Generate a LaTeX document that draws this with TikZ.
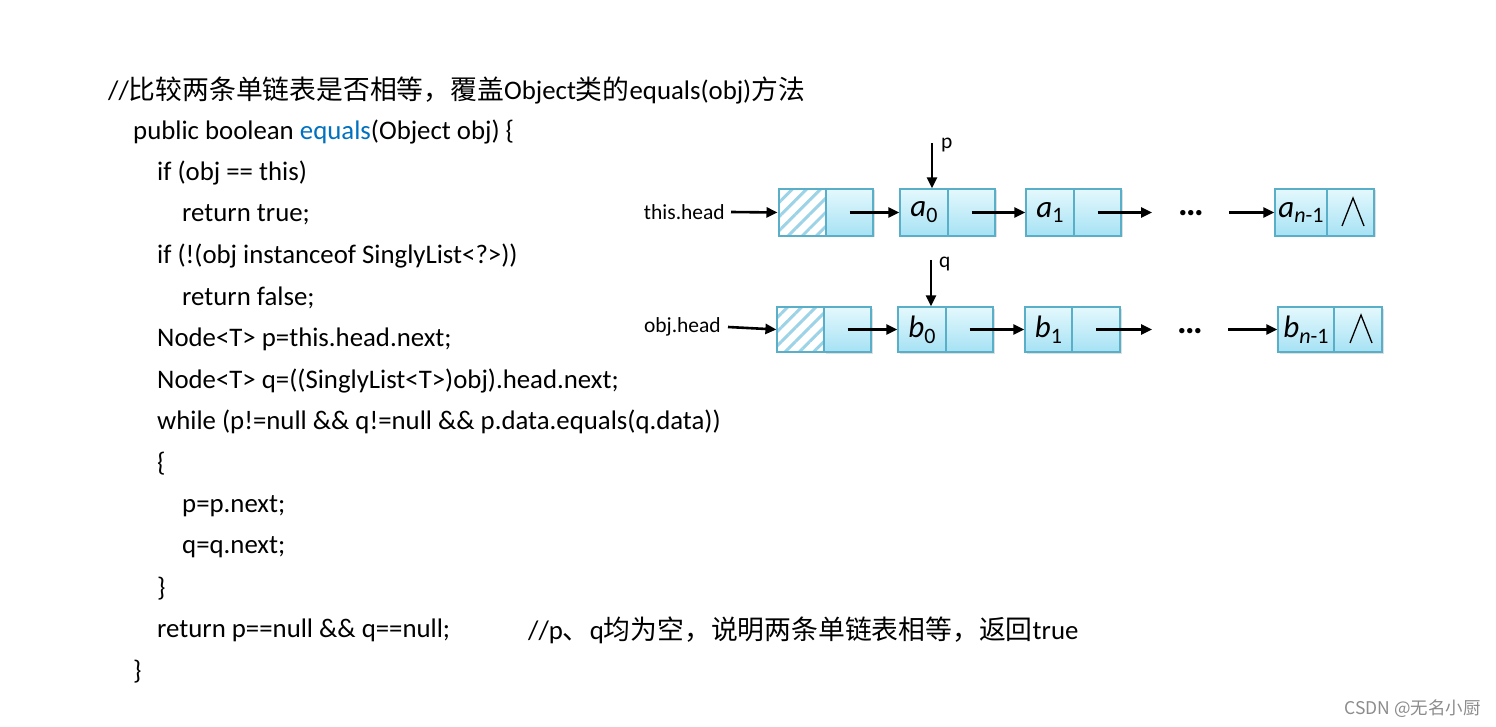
\documentclass[tikz,border=0pt]{standalone}
\usepackage{fontspec}
\setmainfont{Carlito}
\newfontfamily\cjk{Noto Sans CJK SC}
\usetikzlibrary{arrows.meta,patterns.meta,shadows}
\definecolor{cellborder}{HTML}{5AAFC8}
\definecolor{celltop}{HTML}{E4F8FD}
\definecolor{cellbot}{HTML}{A6E2F4}
\definecolor{hatch}{HTML}{9DD3E6}
\definecolor{kw}{HTML}{0070C0}
\tikzset{
  code/.style={anchor=west, inner sep=0pt, font=\fontsize{26.8}{27}\selectfont},
  cell/.style={draw=cellborder, line width=1.2pt, top color=celltop, bottom color=cellbot,
     minimum height=47pt, inner sep=0pt, drop shadow={shadow xshift=1.5pt, shadow yshift=-1.5pt, opacity=0.25}},
  hcell/.style={draw=cellborder, line width=1.2pt, fill=white,
     pattern={Lines[angle=45,distance=10pt,line width=3pt]}, pattern color=hatch,
     minimum height=47pt, inner sep=0pt},
  link/.style={line width=2.6pt, -{Triangle[length=11pt,width=10pt]}},
  lbl/.style={inner sep=0pt, font=\fontsize{21.5}{22}\selectfont},
  elem/.style={font=\fontsize{31}{31}\selectfont},
  dots/.style={inner sep=0pt, font=\bfseries\fontsize{36}{36}\selectfont},
  nil/.style={line width=1.3pt, black}
}
\newcommand{\el}[2]{\textit{#1}\raisebox{-0.4ex}{\fontsize{22}{22}\selectfont #2}}
\newcommand{\elnm}[1]{\textit{#1}\raisebox{-0.4ex}{\fontsize{22}{22}\selectfont\textit{n}-1}}
\begin{document}
\begin{tikzpicture}[x=1pt,y=-1pt]
\useasboundingbox[fill=white] (0,0) rectangle (1496,727);
% ---------- code ----------
\node[code] (l0) at (108,90) {//{\cjk 比较两条单链表是否相等，覆盖}Object{\cjk 类的}equals(obj){\cjk 方法}};
\node[code] (l1) at (133,132) {public boolean \textcolor{kw}{equals}(Object obj) \{};
\node[code] (l2) at (157,173) {if (obj == this)};
\node[code] (l3) at (182,215) {return true;};
\node[code] (l4) at (157,256) {if (!(obj instanceof SinglyList<?>))};
\node[code] (l5) at (182,298) {return false;};
\node[code] (l6) at (157,339) {Node<T> p=this.head.next;};
\node[code] (l7) at (157,381) {Node<T> q=((SinglyList<T>)obj).head.next;};
\node[code] (l8) at (157,422) {while (p!=null \&\& q!=null \&\& p.data.equals(q.data))};
\node[code] (l9) at (157,464) {\{};
\node[code] (l10) at (182,506) {p=p.next;};
\node[code] (l11) at (182,547) {q=q.next;};
\node[code] (l12) at (157,589) {\}};
\node[code] (l13) at (157,630) {return p==null \&\& q==null;};
\node[code] (l13c) at (528,630) {//p{\cjk 、}q{\cjk 均为空，说明两条单链表相等，返回}true};
\node[code] (l14) at (133,672) {\}};
% ---------- list a ----------
\node[hcell, minimum width=47pt] (h1l) at (802.5,212.5) {};
\node[cell, minimum width=47pt] (h1r) at (849.5,212.5) {};
\node[cell, minimum width=48pt, elem] (a0l) at (924,212.5) {\el{a}{0}};
\node[cell, minimum width=47pt] (a0r) at (971.5,212.5) {};
\node[cell, minimum width=48pt, elem] (a1l) at (1050,212.5) {\el{a}{1}};
\node[cell, minimum width=47pt] (a1r) at (1097.5,212.5) {};
\node[cell, minimum width=52pt, elem] (anl) at (1301,212.5) {\elnm{a}};
\node[cell, minimum width=47pt] (anr) at (1350.5,212.5) {};
\draw[nil] (1342,226) -- (1353,198) -- (1364,226);
\node[lbl, anchor=east] (th) at (725,212) {this.head};
\node[dots] (d1) at (1191,213) {…};
\coordinate (a1e) at (1152,212.5);
\coordinate (dnA) at (1229,212.5);
\draw[link] (th.east)+(6,0) -- (h1l.west);
\draw[link] (h1r.center) -- (a0l.west);
\draw[link] (a0r.center) -- (a1l.west);
\draw[link] (a1r.center) -- (a1e);
\draw[link] (dnA) -- (anl.west);
\coordinate (pt) at (932,143);
\draw[link] (pt) -- (a0l.north -| pt);
\node[lbl, anchor=west] (p) at (941,145) {p};
% ---------- list b ----------
\node[hcell, minimum width=47pt, minimum height=45pt] (h2l) at (800.5,329.5) {};
\node[cell, minimum width=47pt, minimum height=45pt] (h2r) at (847.5,329.5) {};
\node[cell, minimum width=48pt, minimum height=45pt, elem] (b0l) at (922,329.5) {\el{b}{0}};
\node[cell, minimum width=47pt, minimum height=45pt] (b0r) at (969.5,329.5) {};
\node[cell, minimum width=47pt, minimum height=45pt, elem] (b1l) at (1048.5,329.5) {\el{b}{1}};
\node[cell, minimum width=48pt, minimum height=45pt] (b1r) at (1096,329.5) {};
\node[cell, minimum width=56pt, minimum height=45pt, elem] (bnl) at (1306,329.5) {\elnm{b}};
\node[cell, minimum width=48pt, minimum height=45pt] (bnr) at (1358,329.5) {};
\draw[nil] (1350,343) -- (1361,315) -- (1372,343);
\node[lbl, anchor=east] (oh) at (721,327) {obj.head};
\node[dots] (d2) at (1190,331) {…};
\coordinate (b1e) at (1152,329.5);
\coordinate (dnB) at (1228,329.5);
\draw[link] (oh.east)+(7,0) -- (h2l.west);
\draw[link] (h2r.center) -- (b0l.west);
\draw[link] (b0r.center) -- (b1l.west);
\draw[link] (b1r.center) -- (b1e);
\draw[link] (dnB) -- (bnl.west);
\coordinate (qt) at (931,260);
\draw[link] (qt) -- (b0l.north -| qt);
\node[lbl, anchor=west] (q) at (939,264) {q};
% ---------- watermark ----------
\node[anchor=east, inner sep=0pt, text=black!45, font=\cjk\fontsize{17.5}{17.5}\selectfont] (wm) at (1481,709) {CSDN @无名小厨};
\end{tikzpicture}
\end{document}
